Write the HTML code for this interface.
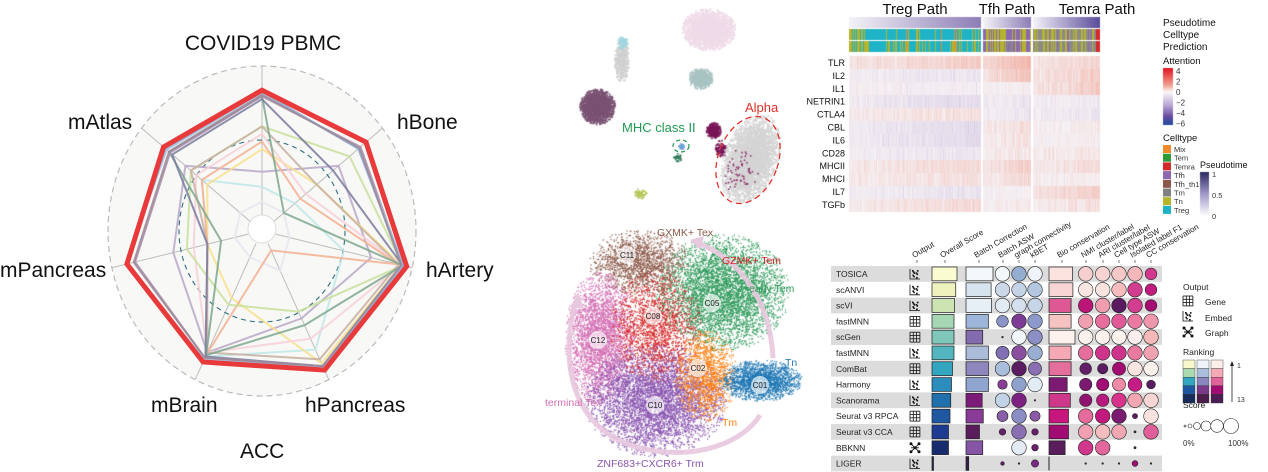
<!DOCTYPE html>
<html><head><meta charset="utf-8"><style>
html,body{margin:0;padding:0;background:#fff;}
#wrap{position:relative;width:1268px;height:472px;overflow:hidden;}
canvas,svg{position:absolute;left:0;top:0;}
text{font-family:"Liberation Sans",sans-serif;}
</style></head><body><div id="wrap">
<canvas id="cv" width="1268" height="472"></canvas>
<svg id="sv" width="1268" height="472" xmlns="http://www.w3.org/2000/svg">
<g id="radar"></g>
<g font-size="21" fill="#111">
<text x="263" y="50" text-anchor="middle">COVID19 PBMC</text>
<text x="68" y="129">mAtlas</text>
<text x="397" y="129">hBone</text>
<text x="0" y="277">mPancreas</text>
<text x="426" y="277">hArtery</text>
<text x="151" y="412">mBrain</text>
<text x="305" y="412">hPancreas</text>
<text x="240" y="458">ACC</text>
</g>
<g id="umapov"></g>
<g font-size="13">
<text x="622" y="132" fill="#1f9a50">MHC class II</text>
<text x="745" y="112" fill="#e0302a">Alpha</text>
</g>
<ellipse cx="681" cy="146" rx="8" ry="6" fill="none" stroke="#1f9a50" stroke-width="1.2" stroke-dasharray="4,3"/>
<ellipse cx="748" cy="160" rx="30" ry="45" transform="rotate(20 748 160)" fill="none" stroke="#e0302a" stroke-width="1.3" stroke-dasharray="6,4"/>
<g font-size="10.5">
<text x="657" y="236" fill="#8c5a4a">GXMK+ Tex</text>
<text x="722" y="264" fill="#d62728">GZMK+ Tem</text>
<text x="749" y="292" fill="#2e9a5a">early Tem</text>
<text x="785" y="366" fill="#1f77b4">Tn</text>
<text x="545" y="406" fill="#d36fb4">terminal Tex</text>
<text x="722" y="426" fill="#ff7f0e">Tm</text>
<text x="597" y="467" fill="#8a55b0">ZNF683+CXCR6+ Trm</text>
</g>
<g id="heat"></g>
<g id="table"></g>
</svg>
</div>
<script>
var cv=document.getElementById('cv'),ctx=cv.getContext('2d');
var NS='http://www.w3.org/2000/svg';
function el(p,t,a,txt){var e=document.createElementNS(NS,t);for(var k in a)e.setAttribute(k,a[k]);if(txt!==undefined)e.textContent=txt;p.appendChild(e);return e;}
var seed=7;function rnd(){seed=(seed*16807)%2147483647;return (seed-1)/2147483646;}
function gauss(){var u=rnd()||1e-9,v=rnd();return Math.sqrt(-2*Math.log(u))*Math.cos(2*Math.PI*v);}

/* RADAR */
var R=document.getElementById('radar');
var cx=262,cy=231,rx=154,ry=165,ir=14;
el(R,'ellipse',{cx:cx,cy:cy,rx:rx,ry:ry,fill:'#f8f8f6',stroke:'#bbb','stroke-dasharray':'6,4','stroke-width':1.2});
function pt(k,f){var a=-Math.PI/2+k*2*Math.PI/7;var r0=ir;return [cx+(r0+f*(rx-r0))*Math.cos(a),cy+(r0+f*(ry-r0))*Math.sin(a)];}
for(var k=0;k<7;k++){var p=pt(k,1.0),q=pt(k,0);el(R,'line',{x1:q[0],y1:q[1],x2:p[0],y2:p[1],stroke:'#bdbdbd','stroke-width':1});}
el(R,'ellipse',{cx:cx,cy:cy,rx:83,ry:91,fill:'none',stroke:'#2a6f80','stroke-dasharray':'5,4','stroke-width':1.1});
var lines=[
['#e6e6f0',[.1,.1,.1,.2,.1,.1,.1]],
['#c0e8e8',[.2,.2,.5,.78,.83,.3,.45]],
['#b8a8c8',[.3,.6,.7,.55,.8,.55,.6]],
['#f8e08a',[.45,.4,.92,.88,.4,.3,.4]],
['#f4b090',[.5,.25,.9,.05,.82,.3,.45]],
['#f8d0d8',[.55,.3,.92,.7,.8,.4,.5]],
['#c8e09a',[.6,.7,.93,.5,.45,.45,.55]],
['#c8b0a0',[.6,.4,.9,.85,.8,.3,.55]],
['#7ea88e',[.8,.1,.93,.6,.82,.2,.75]],
['#7a7aa0',[.78,.55,.93,.9,.83,.3,.72]],
['#a98aa8',[.8,.8,.93,.9,.84,.83,.74]],
['#b0c8e0',[.82,.78,.94,.92,.85,.9,.77]],
['#8fb0d8',[.83,.78,.93,.91,.86,.89,.78]],
['#9a8898',[.81,.79,.92,.9,.84,.84,.75]],
['#e83a3a',[.84,.85,.96,.93,.87,.89,.8]]];
lines.forEach(function(l,i){var s='';for(var k=0;k<7;k++){var p=pt(k,l[1][k]);s+=p[0].toFixed(1)+','+p[1].toFixed(1)+' ';}
el(R,'polygon',{points:s,fill:'none',stroke:l[0],'stroke-width':i==lines.length-1?5:2,'stroke-linejoin':'miter',opacity:i==lines.length-1?1:.85});});
el(R,'circle',{cx:cx,cy:cy-2,r:ir,fill:'#fff',stroke:'#ddd'});

/* SCATTER */
function blob(x,y,sx,sy,col,n,sz,rot){ctx.fillStyle=col;rot=rot||0;var c=Math.cos(rot),s=Math.sin(rot);
for(var i=0;i<n;i++){var a,b;do{a=gauss();b=gauss();}while(a*a+b*b>4.4);a*=sx;b*=sy;ctx.fillRect(x+a*c-b*s,y+a*s+b*c,sz,sz);}}
// top umap
blob(708,29,13,10,'#efdbe8',2500,1.6);
blob(621,60,3.5,11,'#d0d0d0',500,1.6);blob(622,42,2.5,3,'#9fd7e0',80,1.6);
blob(597,106,8.5,8.5,'#7a5273',1800,1.6);
blob(700,78,6,5,'#a9c3c3',700,1.6);
blob(713,130,3.5,4,'#7a1658',300,1.6);blob(720,148,3,4,'#7a1658',100,1.6);
blob(750,158,13,22,'#d4d4d4',3500,1.6,0.35);
blob(740,170,9,12,'#8a2565',60,1.5);
blob(677,157,2,2,'#2e7a5a',40,1.5);blob(681,146,1.5,1.5,'#6aa0d8',30,1.5);
blob(640,193,3,2.5,'#b5c85a',80,1.5);
// bottom umap
var B=[[722,292,32,28,'#2e9a5a',4500],[638,262,24,16,'#8c5a4a',1600],[600,338,17,32,'#d36fb4',3200],[655,400,34,27,'#8a55b0',5000],[655,325,22,27,'#d62728',1800],[705,375,15,22,'#ff7f0e',1400],[760,380,20,10,'#1f77b4',2000]];
B.forEach(function(b){blob(b[0],b[1],b[2],b[3],b[4],b[5],1.2);});
// heatmap
var segs=[[849,981,'#8c7db5'],[983,1031,'#8c7db5'],[1033,1100,'#5a4a9a']];
function mix(a,b,t){var pa=[parseInt(a.substr(1,2),16),parseInt(a.substr(3,2),16),parseInt(a.substr(5,2),16)],pb=[parseInt(b.substr(1,2),16),parseInt(b.substr(3,2),16),parseInt(b.substr(5,2),16)];
return 'rgb('+pa.map(function(v,i){return Math.round(v+(pb[i]-v)*t);}).join(',')+')';}
var rowBase=[[.3,.5,.25],[-.15,.4,.3],[-.05,0,.3],[-.25,-.15,-.1],[.15,-.15,-.15],[-.25,.15,.05],[-.25,.15,0],[-.15,.1,.1],[.2,.3,.2],[.15,.25,.05],[-.15,0,.3],[.2,.05,.15]];
segs.forEach(function(sg,si){
 for(var x=sg[0];x<sg[1];x++){var t=(x-sg[0])/(sg[1]-sg[0]);
  ctx.fillStyle=mix('#f4f2f8',sg[2],t);ctx.fillRect(x,17,1,11);
  var c1,r=rnd();
  if(si==0)c1=(t<0.12&&r<.7)?'#b5b42c':(r<.1?'#b5b42c':(r<.13?'#e88a30':'#1fb3c8'));
  else if(si==1)c1=t<0.5?(r<.8?'#b5b42c':'#8b68b0'):(r<.6?'#8b68b0':'#b5b42c');
  else c1=t>0.93?'#d62728':(r<.4?'#b5b42c':(r<.85?'#8a8a8a':'#8b68b0'));
  ctx.fillStyle=c1;ctx.fillRect(x,29,1,11);
  r=rnd();var c2=c1;if(r<.15)c2=si==0?'#b5b42c':'#8a8a8a';ctx.fillStyle=c2;ctx.fillRect(x,41,1,11);
  for(var row=0;row<12;row++){var v=rowBase[row][si]*(0.5+t)+gauss()*0.08;
   var col=v>0?mix('#f6f1f4','#f0a090',Math.min(1,v)):mix('#f6f1f4','#c4b6dc',Math.min(1,-v));
   ctx.fillStyle=col;ctx.fillRect(x,56+row*13,1,13);}
 }});
var g=ctx.createLinearGradient(0,68,0,125);g.addColorStop(0,'#e0141e');g.addColorStop(.3,'#f0a090');g.addColorStop(.42,'#fbf7f8');g.addColorStop(.65,'#b8a8d4');g.addColorStop(.85,'#6a4ca0');g.addColorStop(1,'#1c4aa0');
ctx.fillStyle=g;ctx.fillRect(1163,68,10,57);
g=ctx.createLinearGradient(0,172,0,216);g.addColorStop(0,'#2a2a60');g.addColorStop(.5,'#a098c8');g.addColorStop(1,'#fff');ctx.fillStyle=g;ctx.fillRect(1200,172,9,44);

/* UMAP overlay */
var U=document.getElementById('umapov');
el(U,'path',{d:'M773,358 C770,300 740,260 700,244',fill:'none',stroke:'#e8c8de','stroke-width':5,opacity:.9});
el(U,'polygon',{points:'690,240 704,236 700,250',fill:'#e8c8de'});
el(U,'path',{d:'M575,305 C560,360 570,430 640,448 C700,462 745,440 760,415',fill:'none',stroke:'#e8c8de','stroke-width':5,opacity:.9});
el(U,'polygon',{points:'578,293 570,308 584,308',fill:'#e8c8de'});
[['C11',627,255],['C05',712,303],['C08',653,316],['C12',598,340],['C02',698,368],['C01',760,385],['C10',655,405]].forEach(function(c){
 el(U,'circle',{cx:c[1],cy:c[2],r:9,fill:'#fff','fill-opacity':.65});
 el(U,'text',{x:c[1],y:c[2]+3,'font-size':8,'text-anchor':'middle',fill:'#222'},c[0]);});

/* HEAT text */
var H=document.getElementById('heat');
el(H,'text',{x:915,y:14,'font-size':15,'text-anchor':'middle',fill:'#111'},'Treg Path');
el(H,'text',{x:1007,y:14,'font-size':15,'text-anchor':'middle',fill:'#111'},'Tfh Path');
el(H,'text',{x:1097,y:14,'font-size':15,'text-anchor':'middle',fill:'#111'},'Temra Path');
['Pseudotime','Celltype','Prediction'].forEach(function(t,i){el(H,'text',{x:1163,y:26+i*12,'font-size':10,fill:'#111'},t);});
['TLR','IL2','IL1','NETRIN1','CTLA4','CBL','IL6','CD28','MHCII','MHCI','IL7','TGFb'].forEach(function(t,i){el(H,'text',{x:845,y:66+i*12.9,'font-size':9,'text-anchor':'end',fill:'#111'},t);});
el(H,'text',{x:1163,y:64,'font-size':9.5,fill:'#111'},'Attention');
['4','2','0','\u22122','\u22124','\u22126'].forEach(function(t,i){el(H,'text',{x:1176,y:74+i*10.5,'font-size':8,fill:'#333'},t);});
el(H,'text',{x:1163,y:141,'font-size':9.5,fill:'#111'},'Celltype');
[['Mix','#f28a2a'],['Tem','#2e9a3a'],['Temra','#d62728'],['Tfh','#8b68b0'],['Tfh_th1','#8c564b'],['Tm','#808080'],['Tn','#b5b42c'],['Treg','#1fb3c8']].forEach(function(c,i){
 el(H,'rect',{x:1163,y:145+i*8.7,width:8,height:8,fill:c[1]});el(H,'text',{x:1174,y:152+i*8.7,'font-size':7.5,fill:'#333'},c[0]);});
el(H,'text',{x:1200,y:168,'font-size':9,fill:'#111'},'Pseudotime');
el(H,'text',{x:1212,y:177,'font-size':7.5,fill:'#333'},'1');el(H,'text',{x:1212,y:198,'font-size':7.5,fill:'#333'},'0.5');el(H,'text',{x:1212,y:219,'font-size':7.5,fill:'#333'},'0');

/* TABLE */
var T=document.getElementById('table');
var rows=[
['TOSICA',1,'#fbfbd2',1,'#f3f8fb',[[1,'#f3f8fb'],[1,'#93aed1'],[1,'#eef4f9']],.9,'#fbe3e0',[[1,'#f7cfcf'],[1,'#f7d3d1'],[1,'#f6c8c8'],[1,'#f4b7ba'],[.8,'#d1388e']],'e'],
['scANVI',.95,'#eef2bd',.93,'#d7e4ef',[[1,'#cbd8e8'],[1,'#c4d3e6'],[1,'#b4c7e1']],.92,'#f9d6d6',[[1,'#fde6e2'],[1,'#fce3e0'],[1,'#f6bcbe'],[1,'#d23d8f'],[.8,'#c01c7f']],'e'],
['scVI',.9,'#cbe4b2',.95,'#e6eef6',[[1,'#e2eaf4'],[1,'#d4e0ee'],[1,'#c6d5e8']],.85,'#de5895',[[1,'#bb1577'],[1,'#f09db0'],[1,'#5a1a60'],[1,'#d23d8f'],[.8,'#a60c72']],'e'],
['fastMNN',.88,'#a5d7b4',.83,'#9cb5d8',[[.8,'#8b94c7'],[1,'#7d3b95'],[1,'#8c9acb']],.85,'#f6c3c3',[[1,'#f1a0b1'],[1,'#e56e9c'],[1,'#e05a99'],[1,'#ea7aa2'],[1,'#ef97ad']],'g'],
['scGen',.88,'#7fc7b8',.62,'#846aae',[[.1,'#333'],[1,'#f2f7fb'],[1,'#8c8fc5']],1,'#fdf1ee',[[1,'#fdf1ee'],[1,'#fdf1ee'],[1,'#fdf1ee'],[1,'#fbeeec'],[1,'#f5b8b8']],'g'],
['fastMNN',.88,'#53b5bd',.83,'#aabcda',[[.9,'#8170b4'],[1,'#8a4f9f'],[1,'#9aaed3']],.85,'#f4a9b5',[[1,'#e46f9c'],[1,'#cd348a'],[1,'#ce348b'],[1,'#e87a9f'],[1,'#f0a2b0']],'e'],
['ComBat',.82,'#32a6c0',.83,'#8e87bd',[[1,'#a9bddc'],[1,'#5c1c62'],[.9,'#8a6fb3']],.85,'#e46f9d',[[.8,'#631e67'],[.7,'#5a1c62'],[.9,'#a30a72'],[1,'#fde6e2'],[1,'#fdf0ed']],'g'],
['Harmony',.78,'#2c8cbb',.83,'#8fa4ce',[[.65,'#8a3d96'],[1,'#8fa1cd'],[1,'#e2ecf5']],.7,'#7a1a70',[[.85,'#7a1a70'],[.85,'#a10c75'],[.9,'#ef8aa7'],[.95,'#c51b84'],[.6,'#5b1c62']],'e'],
['Scanorama',.75,'#1f70ac',.6,'#7c1c78',[[1,'#c2d3e7'],[1,'#7d2183'],[.1,'#444']],.82,'#cf378b',[[.85,'#8e1470'],[.85,'#b8197e'],[1,'#d8338c'],[1,'#f2a7b3'],[1,'#f9d5d3']],'e'],
['Seurat v3 RPCA',.72,'#1f58a0',.64,'#8a3a97',[[.75,'#8a5fa9'],[1,'#8b8ec5'],[.7,'#8d5aa7']],.75,'#c8167f',[[1,'#e46b9b'],[1,'#c2197f'],[1,'#7a1a70'],[.35,'#5c1c62'],[1,'#fde3df']],'g'],
['Seurat v3 CCA',.66,'#1d3b91',.5,'#5a1d5c',[[.45,'#6a1e6c'],[1,'#8a6fb3'],[.45,'#6a1e6c']],.75,'#a00c72',[[1,'#f1a0b1'],[1,'#f6bdbf'],[1,'#f2a7b3'],[.15,'#333'],[1,'#e15d9a']],'g'],
['BBKNN',.66,'#172c6e',.62,'#8455a5',[[0,''],[1,'#e3ebf5'],[.45,'#6a1e6c']],.62,'#5a1d5c',[[1,'#d0378c'],[1,'#e2679c'],[0,''],[.15,'#333'],[0,'']],'n'],
['LIGER',.06,'#172c4e',.1,'#3a1d4a',[[.25,'#6a1e6c'],[.1,'#333'],[.5,'#7a2a86']],0,'#000',[[.1,'#333'],[.1,'#333'],[.1,'#333'],[.4,'#a10c75'],[.1,'#333']],'e']];
var y0=266,rh=15.8;
function icon(p,x,y,t){
 if(t=='g'){for(var i=0;i<4;i++){el(p,'line',{x1:x+i*3.3,y1:y,x2:x+i*3.3,y2:y+10,stroke:'#111','stroke-width':.8});el(p,'line',{x1:x,y1:y+i*3.3,x2:x+10,y2:y+i*3.3,stroke:'#111','stroke-width':.8});}}
 else if(t=='e'){el(p,'path',{d:'M'+x+','+y+' v10 h10',fill:'none',stroke:'#111','stroke-width':.8});for(var i=0;i<9;i++)el(p,'rect',{x:x+2+(i*3.7)%7,y:y+1+(i*2.3)%8,width:1.6,height:1.6,fill:'#111'});}
 else{el(p,'path',{d:'M'+(x+1)+','+(y+1)+' L'+(x+9)+','+(y+9)+' M'+(x+9)+','+(y+1)+' L'+(x+1)+','+(y+9)+' M'+(x+1)+','+(y+5)+' L'+(x+9)+','+(y+5),stroke:'#111','stroke-width':.9});[[1,1],[9,9],[9,1],[1,9],[5,5]].forEach(function(q){el(p,'circle',{cx:x+q[0],cy:y+q[1],r:1.5,fill:'#111'});});}}
rows.forEach(function(r,i){var y=y0+i*rh;
 if(i%2==0)el(T,'rect',{x:831,y:y,width:331,height:rh,fill:'#dcdcdc'});
 el(T,'text',{x:836,y:y+11,'font-size':8.5,fill:'#222'},r[0]);
 icon(T,910,y+3,r[9]);
 el(T,'rect',{x:932,y:y+1,width:Math.max(1.5,25*r[1]),height:rh-2,fill:r[2],stroke:'#222','stroke-width':.7});
 el(T,'rect',{x:966,y:y+1,width:Math.max(1.5,27*r[3]),height:rh-2,fill:r[4],stroke:'#222','stroke-width':.7});
 r[5].forEach(function(c,j){if(c[0]>0)el(T,'circle',{cx:[1002.5,1019,1035][j],cy:y+rh/2,r:Math.max(.8,7.3*c[0]),fill:c[1],stroke:'#222','stroke-width':.6});});
 if(r[6]>0)el(T,'rect',{x:1049,y:y+1,width:26*r[6],height:rh-2,fill:r[7],stroke:'#222','stroke-width':.7});else el(T,'line',{x1:1049,y1:y+1,x2:1049,y2:y+rh-1,stroke:'#222'});
 r[8].forEach(function(c,j){if(c[0]>0)el(T,'circle',{cx:[1085.7,1102.7,1119,1135,1151][j],cy:y+rh/2,r:Math.max(.8,7.3*c[0]),fill:c[1],stroke:'#222','stroke-width':.6});});
});
[['Output',917],['Overall Score',945],['Batch Correction',979],['Batch ASW',1003],['graph connectivity',1019],['kBET',1035],['Bio conservation',1062],['NMI cluster/label',1086],['ARI cluster/label',1103],['Cell type ASW',1119],['Isolated label F1',1135],['CC conservation',1151]].forEach(function(h){
 el(T,'text',{x:h[1]-3,y:258,'font-size':8,fill:'#222',transform:'rotate(-30 '+(h[1]-3)+' 258)'},h[0]);
 el(T,'line',{x1:h[1],y1:260,x2:h[1],y2:263,stroke:'#222','stroke-width':.6});});
el(T,'text',{x:1183,y:290,'font-size':8.5,fill:'#222'},'Output');
icon(T,1183,296,'g');el(T,'text',{x:1205,y:305,'font-size':8.5,fill:'#222'},'Gene');
icon(T,1183,311,'e');el(T,'text',{x:1205,y:321,'font-size':8.5,fill:'#222'},'Embed');
icon(T,1183,327,'n');el(T,'text',{x:1205,y:336,'font-size':8.5,fill:'#222'},'Graph');
el(T,'text',{x:1183,y:355,'font-size':8.5,fill:'#222'},'Ranking');
var lc=[['#f8f7cc','#a9dab0','#33a6c0','#1f58a0','#172c5a'],['#eef4f9','#a9bddc','#8a87c0','#7a3a8a','#4a1d4a'],['#fdeee9','#f4a9b5','#e0649a','#a00c72','#4a1d55']];
lc.forEach(function(cs,ci){cs.forEach(function(c,k){el(T,'rect',{x:1183+ci*14,y:360+k*8.6,width:12,height:8.6,fill:c,stroke:'#333','stroke-width':.4});});});
el(T,'line',{x1:1232,y1:364,x2:1232,y2:402,stroke:'#222','stroke-width':.8});el(T,'polygon',{points:'1230,366 1234,366 1232,361',fill:'#222'});
el(T,'text',{x:1237,y:368,'font-size':7,fill:'#333'},'1');el(T,'text',{x:1237,y:402,'font-size':7,fill:'#333'},'13');
el(T,'text',{x:1183,y:408,'font-size':8.5,fill:'#222'},'Score');
[[1185,1],[1190,2],[1197,3.5],[1206,5],[1217,6.3],[1231,7.5]].forEach(function(c){el(T,'circle',{cx:c[0],cy:426,r:c[1],fill:'#fff',stroke:'#222','stroke-width':.6});});
el(T,'text',{x:1183,y:446,'font-size':8,fill:'#333'},'0%');el(T,'text',{x:1228,y:446,'font-size':8,fill:'#333'},'100%');
</script>
</body></html>
